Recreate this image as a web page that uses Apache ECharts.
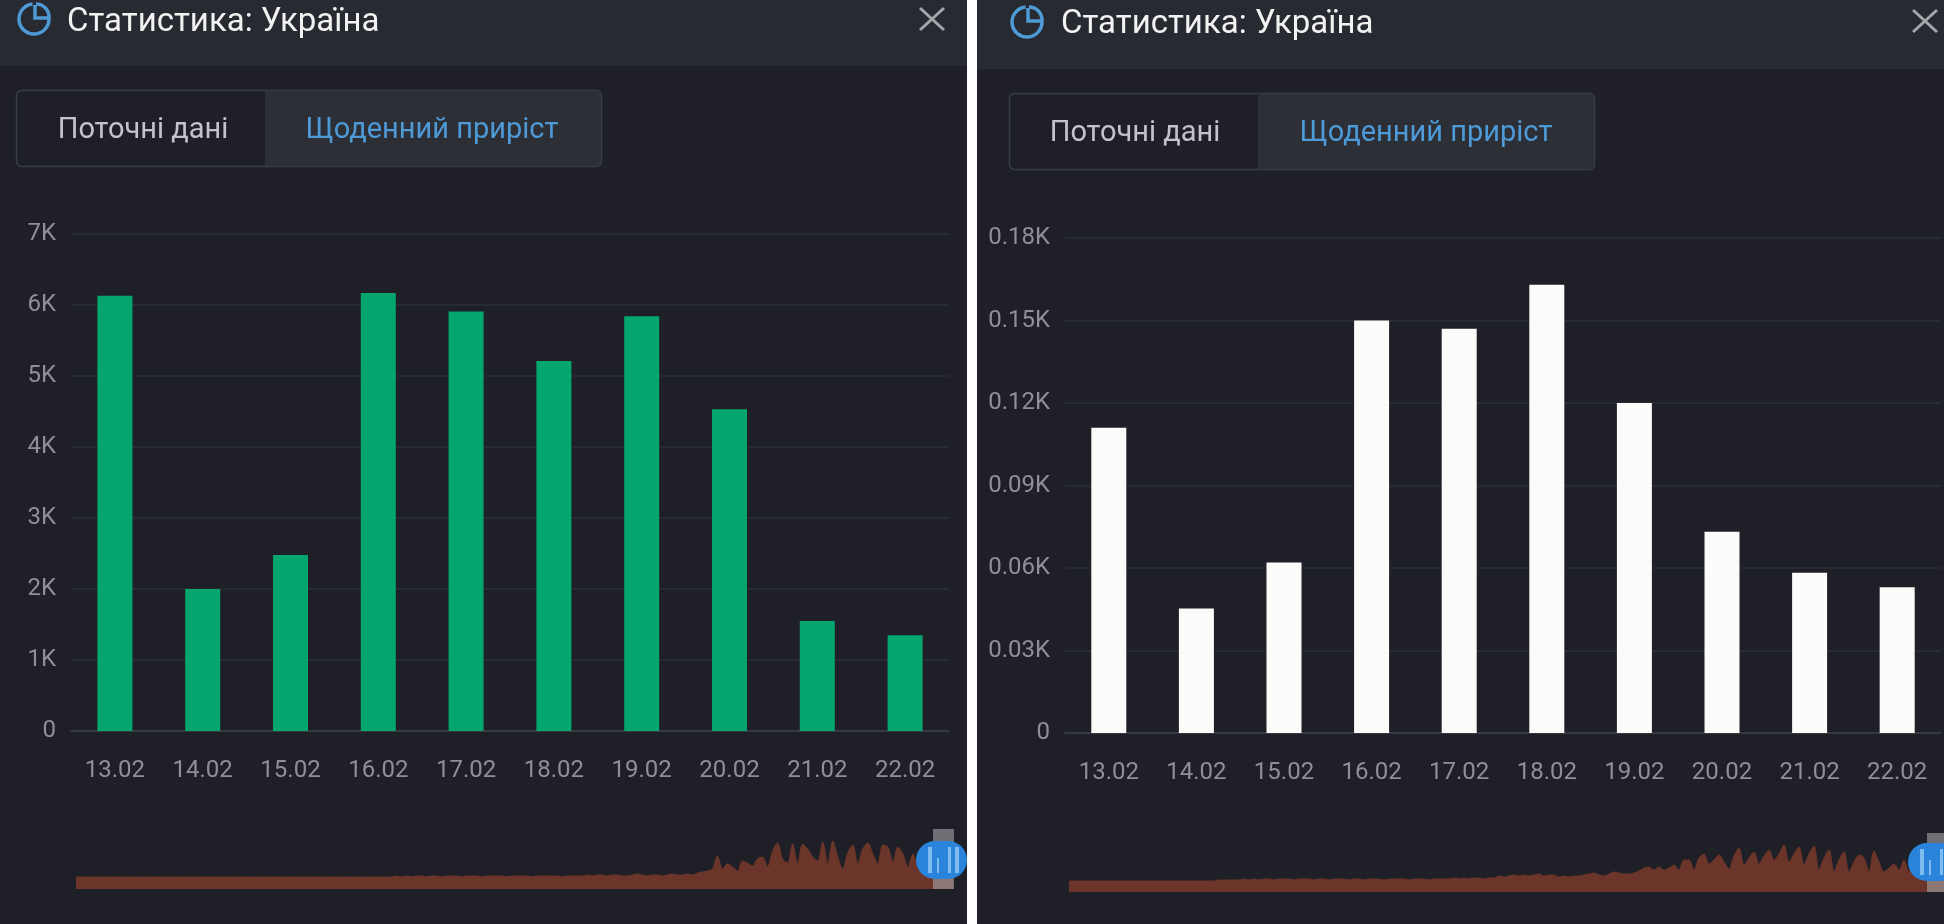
<!DOCTYPE html>
<html>
<head>
<meta charset="utf-8">
<title>Статистика: Україна</title>
<script src="https://cdn.jsdelivr.net/npm/echarts@6/dist/echarts.min.js"></script>
<style>
html, body { margin: 0; padding: 0; background: #fff; }
#main { width: 1944px; height: 924px; }
</style>
</head>
<body>
<div id="main"></div>
<script>
var categories = ['13.02', '14.02', '15.02', '16.02', '17.02', '18.02', '19.02', '20.02', '21.02', '22.02'];
var casesValues = [6130, 2000, 2480, 6170, 5910, 5210, 5840, 4530, 1550, 1350];
var deathsValues = [111, 45.3, 62, 150, 147, 163, 120, 73.2, 58.3, 53];

var casesOverview = [
    12, 12, 12, 12, 12, 12, 12, 12, 12, 12, 12, 12, 12, 12, 12, 12, 12, 12, 12, 12,
    12, 12, 12, 12, 12, 12, 12, 12, 12, 12, 12, 12, 12, 12, 12, 12, 12, 12, 12, 12,
    12, 12, 12, 12, 12, 12, 12, 12, 12, 12, 12, 12, 12, 12, 12, 12, 12, 12, 12, 12,
    12, 12, 12, 12, 13, 12, 13, 12, 13, 13, 12, 13, 13, 12, 13, 13, 13, 12, 13, 13,
    13, 12, 13, 13, 13, 13, 12, 13, 13, 13, 13, 12, 13, 13, 13, 13, 13, 12, 13, 13,
    13, 13, 14, 13, 14, 14, 13, 14, 14, 13, 13, 14, 15, 14, 13, 14, 14, 13, 14, 15,
    14, 14, 15, 14, 16, 17, 18, 20, 33, 20, 25, 22, 18, 28, 26, 23, 30, 32, 22, 38,
    46, 30, 26, 45, 25, 45, 40, 32, 28, 47, 25, 48, 32, 20, 36, 44, 25, 40, 46, 35,
    25, 44, 42, 27, 42, 35, 22, 35, 23, 32, 42, 36, 28, 34, 26, 30
];
var deathsOverview = [
    11, 11, 11, 11, 11, 11, 11, 11, 11, 11, 11, 11, 11, 11, 11, 11, 11, 11, 11, 11,
    11, 11, 11, 11, 11, 11, 11, 11, 11, 11, 12, 12, 12, 12, 12, 13, 12, 13, 12, 13,
    13, 12, 13, 13, 13, 12, 13, 13, 13, 12, 13, 13, 12, 13, 13, 13, 12, 13, 13, 12,
    13, 13, 13, 12, 13, 13, 13, 13, 12, 13, 13, 13, 12, 13, 13, 13, 13, 14, 13, 14,
    13, 14, 14, 13, 14, 14, 16, 15, 16, 17, 16, 17, 16, 17, 18, 16, 17, 17, 15, 16,
    15, 16, 16, 17, 18, 19, 17, 16, 18, 20, 19, 18, 18, 19, 21, 24, 25, 22, 25, 22,
    24, 27, 22, 32, 32, 22, 34, 38, 28, 32, 37, 30, 23, 36, 44, 27, 34, 40, 28, 36,
    42, 32, 38, 47, 30, 38, 45, 27, 38, 46, 22, 34, 42, 20, 32, 40, 20, 30, 37, 34,
    20, 41, 30, 20, 24, 28, 22, 32, 20, 30, 28, 26, 30, 28, 26, 28
];

var PANEL = '#1f2027', HEADER = '#282a31', BLUE = '#4d9ad6', SPLIT = '#2c2e36';

function kLabel(v) {
    return v === 0 ? '0' : (v / 1000) + 'K';
}

// header, tabs and the slider handle for one panel (none of it comes from data)
function panelChrome(p) {
    var items = [
        { type: 'rect', z: -10, shape: { x: p.x, y: 0, width: p.w, height: 924 }, style: { fill: PANEL } },
        { type: 'rect', z: -9, shape: { x: p.x, y: 0, width: p.w, height: p.headerH }, style: { fill: HEADER } },
        // pie icon
        { type: 'arc', z: 5, shape: { cx: p.iconX, cy: p.iconY, r: 15, startAngle: -Math.PI / 2 - 0.1, endAngle: -0.15, clockwise: false },
            style: { stroke: BLUE, lineWidth: 3.5, fill: null } },
        { type: 'polyline', z: 5, shape: { points: [[p.iconX + 1, p.iconY - 14], [p.iconX + 1, p.iconY - 1], [p.iconX + 16, p.iconY - 1]] },
            style: { stroke: BLUE, lineWidth: 3.5, fill: null } },
        { type: 'arc', z: 5, shape: { cx: p.iconX + 2, cy: p.iconY - 2, r: 13, startAngle: -Math.PI / 2, endAngle: 0, clockwise: true },
            style: { stroke: BLUE, lineWidth: 3.5, fill: null } },
        { type: 'text', z: 5, x: p.titleX, y: p.titleY, style: { text: 'Статистика: Україна', fill: '#f2f2f3', font: '33px Roboto', textAlign: 'left', textVerticalAlign: 'middle' } },
        // close cross
        { type: 'polyline', z: 5, shape: { points: [[p.closeX - 12, p.closeY - 11], [p.closeX + 12, p.closeY + 11]] }, style: { stroke: '#a4a6ab', lineWidth: 3, fill: null } },
        { type: 'polyline', z: 5, shape: { points: [[p.closeX - 12, p.closeY + 11], [p.closeX + 12, p.closeY - 11]] }, style: { stroke: '#a4a6ab', lineWidth: 3, fill: null } },
        // tabs
        { type: 'rect', z: 4, shape: { x: p.tabX + 0.5, y: p.tabY + 0.5, width: p.tabW, height: 76, r: 5 }, style: { fill: PANEL, stroke: '#3b3d45', lineWidth: 1.5 } },
        { type: 'rect', z: 4, shape: { x: p.tabMid, y: p.tabY + 1, width: p.tabX + p.tabW - p.tabMid, height: 75, r: [0, 5, 5, 0] }, style: { fill: '#2d2f37' } },
        { type: 'text', z: 5, x: p.tab1X, y: p.tabY + 41, style: { text: 'Поточні дані', fill: '#c3c4c9', font: '29px Roboto', textAlign: 'center', textVerticalAlign: 'middle' } },
        { type: 'text', z: 5, x: p.tab2X, y: p.tabY + 41, style: { text: 'Щоденний приріст', fill: BLUE, font: '29px Roboto', textAlign: 'center', textVerticalAlign: 'middle' } },
        // slider handle
        { type: 'rect', z: 20, shape: { x: p.barX, y: p.barTop, width: 21, height: p.barBottom - p.barTop }, style: { fill: 'rgba(165,165,170,0.6)' } },
        { type: 'rect', z: 21, shape: { x: p.knobX, y: p.knobY - 19, width: 51, height: 38, r: 19 }, style: { fill: '#2a84dc' } }
    ];
    items.push({ type: 'rect', z: 22, shape: { x: p.knobX + 12, y: p.knobY - 13, width: 4, height: 26 }, style: { fill: '#7fbcf0' } });
    items.push({ type: 'rect', z: 22, shape: { x: p.knobX + 21, y: p.knobY - 2, width: 2, height: 15 }, style: { fill: '#7fbcf0' } });
    items.push({ type: 'rect', z: 22, shape: { x: p.knobX + 32, y: p.knobY - 13, width: 3, height: 26 }, style: { fill: '#7fbcf0' } });
    items.push({ type: 'rect', z: 22, shape: { x: p.knobX + 39, y: p.knobY - 13, width: 4, height: 26 }, style: { fill: '#7fbcf0' } });
    return items;
}

var leftPanel = {
    x: 0, w: 967, headerH: 66, iconX: 34, iconY: 19, titleX: 67, titleY: 23, closeX: 932, closeY: 19,
    tabX: 16, tabY: 90, tabW: 585, tabMid: 265, tab1X: 143, tab2X: 432,
    barX: 933, barTop: 829, barBottom: 889, knobX: 916, knobY: 860
};
var rightPanel = {
    x: 977, w: 967, headerH: 69, iconX: 1027, iconY: 22, titleX: 1061, titleY: 25, closeX: 1925, closeY: 21,
    tabX: 1009, tabY: 93, tabW: 585, tabMid: 1258, tab1X: 1135, tab2X: 1426,
    barX: 1927, barTop: 833, barBottom: 892, knobX: 1908, knobY: 862
};

function barXAxis(gridIndex) {
    return {
        type: 'category', gridIndex: gridIndex, data: categories,
        axisTick: { show: false },
        axisLine: { lineStyle: { color: '#3d3f47', width: 1.5 } },
        axisLabel: { color: '#8f9096', fontFamily: 'Roboto', fontSize: 24, margin: 28, interval: 0 }
    };
}

function barYAxis(gridIndex, max, interval, formatter) {
    return {
        type: 'value', gridIndex: gridIndex, min: 0, max: max, interval: interval,
        axisLine: { show: false }, axisTick: { show: false },
        axisLabel: { color: '#8f9096', fontFamily: 'Roboto', fontSize: 24, margin: 15, formatter: formatter },
        splitLine: { lineStyle: { color: SPLIT, width: 1.5 } }
    };
}

function stripXAxis(gridIndex, values) {
    return { type: 'category', gridIndex: gridIndex, show: false, boundaryGap: false, data: values.map(function(v, i) { return i; }) };
}

function stripYAxis(gridIndex) {
    return { type: 'value', gridIndex: gridIndex, show: false, min: 0, max: 60 };
}

function stripSeries(axisIndex, values) {
    return {
        type: 'line', xAxisIndex: axisIndex, yAxisIndex: axisIndex, data: values, symbol: 'none', silent: true, smooth: 0.3,
        lineStyle: { color: '#6b3529', width: 1 }, areaStyle: { color: '#6b3529', opacity: 1 }
    };
}

var myChart = echarts.init(document.getElementById('main'));

var option = {
    backgroundColor: '#ffffff',
    animation: false,
    grid: [
        { left: 71, top: 234, width: 878, height: 497 },
        { left: 1065, top: 238, width: 876, height: 495 },
        { left: 76, top: 829, width: 877, height: 60 },
        { left: 1069, top: 832, width: 879, height: 60 }
    ],
    xAxis: [barXAxis(0), barXAxis(1), stripXAxis(2, casesOverview), stripXAxis(3, deathsOverview)],
    yAxis: [
        barYAxis(0, 7000, 1000, kLabel),
        barYAxis(1, 180, 30, function(v) { return v === 0 ? '0' : (v / 1000).toFixed(2) + 'K'; }),
        stripYAxis(2),
        stripYAxis(3)
    ],
    series: [
        { type: 'bar', xAxisIndex: 0, yAxisIndex: 0, data: casesValues, barWidth: 35, itemStyle: { color: '#02a66e' } },
        { type: 'bar', xAxisIndex: 1, yAxisIndex: 1, data: deathsValues, barWidth: 35, itemStyle: { color: '#fbfbf9' } },
        stripSeries(2, casesOverview),
        stripSeries(3, deathsOverview)
    ],
    graphic: { elements: panelChrome(leftPanel).concat(panelChrome(rightPanel)) }
};

myChart.setOption(option);
</script>
</body>
</html>
